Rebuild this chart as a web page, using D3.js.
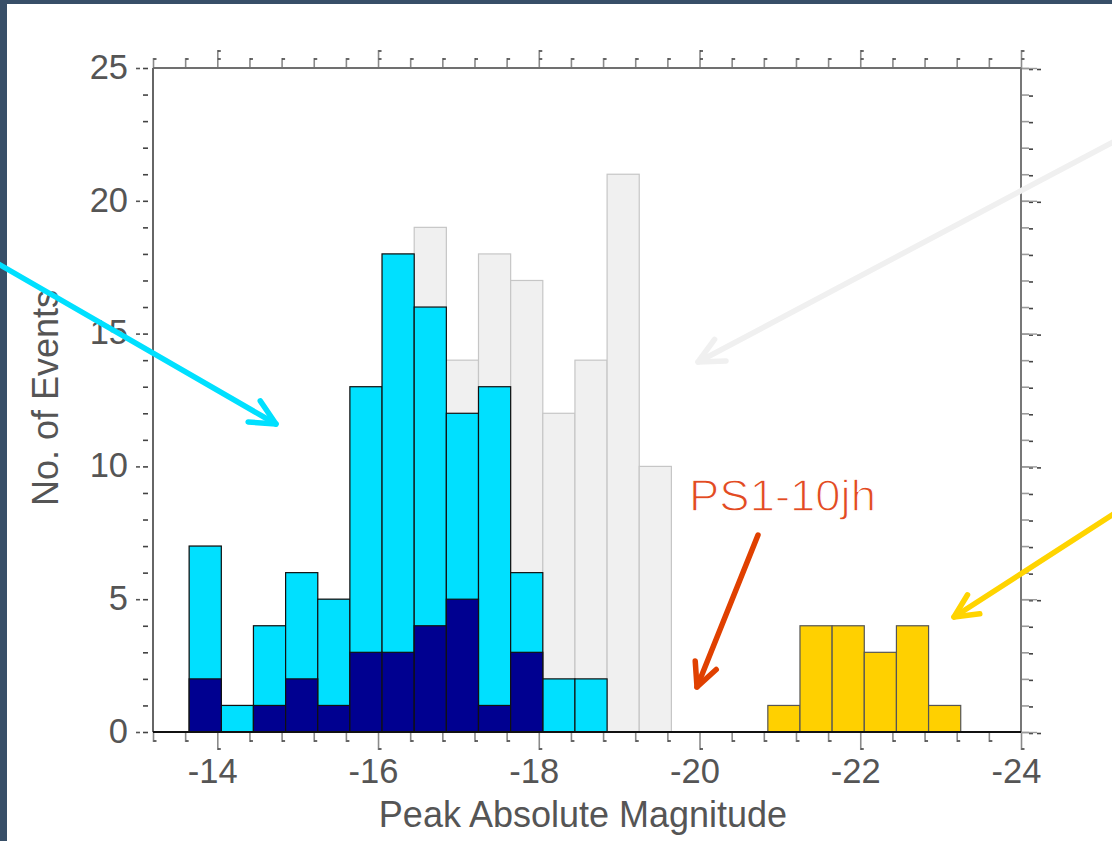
<!DOCTYPE html>
<html>
<head>
<meta charset="utf-8">
<script src="https://cdn.jsdelivr.net/npm/d3@7/dist/d3.min.js"></script>
<style>
  html, body { margin: 0; padding: 0; background: #fff; }
  svg { display: block; }
  text { font-family: "Liberation Sans", "Helvetica Neue", Arial, sans-serif; }
</style>
</head>
<body>
<svg id="chart" width="1112" height="841"></svg>
<script>
// Histogram of peak absolute magnitudes, 0.4 mag bins
const binStart = -13.65;   // left edge of first bin
const binWidth = 0.4;
// all events (light grey)
const allCounts    = [7, 1, 4, 6, 5, 13, 18, 19, 14, 18, 17, 12, 14, 21, 10];
// faint subset (cyan)
const faintCounts  = [7, 1, 4, 6, 5, 13, 18, 16, 12, 13, 6, 2, 2];
// sub-subset (navy)
const innerCounts  = [2, 0, 1, 2, 1, 3, 3, 4, 5, 1, 3, 0, 0];
// superluminous group (yellow), starting at bin 18
const brightStartBin = 18;
const brightCounts = [1, 4, 4, 3, 4, 1];

const xTicks = [-14, -16, -18, -20, -22, -24];
const yTicks = [0, 5, 10, 15, 20, 25];
const xLabel = "Peak Absolute Magnitude";
const yLabel = "No. of Events";
const note = "PS1-10jh";

const svg = d3.select("#chart");
const W = 1112, H = 841;
const pLeft = 153, pRight = 1021, pTop = 68, pBottom = 732;
const tickFont = 34.5, titleFont = 36;

const x = d3.scaleLinear().domain([-13.2, -24]).range([pLeft, pRight]);
const y = d3.scaleLinear().domain([0, 25]).range([pBottom, pTop]);

// frame of the slide
svg.append("rect").attr("width", W).attr("height", H).attr("fill", "#fff");
svg.append("rect").attr("x", 0).attr("y", 0).attr("width", W).attr("height", 4).attr("fill", "#384f68");
svg.append("rect").attr("x", 0).attr("y", 0).attr("width", 7).attr("height", H).attr("fill", "#384f68");

const bins = (counts, offset) => counts.map((c, i) => {
  const lo = binStart - binWidth * (i + offset);
  return { x0: lo, x1: lo - binWidth, v: c };
});

function drawBars(data, fill, stroke, sw) {
  svg.append("g").selectAll("rect").data(data.filter(d => d.v > 0)).join("rect")
    .attr("x", d => x(d.x0))
    .attr("width", d => x(d.x1) - x(d.x0))
    .attr("y", d => y(d.v))
    .attr("height", d => y(0) - y(d.v))
    .attr("fill", fill)
    .attr("stroke", stroke)
    .attr("stroke-width", sw);
}

drawBars(bins(allCounts, 0), "#f0f0f0", "#c6c6c6", 1.2);
drawBars(bins(faintCounts, 0), "#00e0ff", "#111", 1.2);
drawBars(bins(innerCounts, 0), "#000090", "#111", 1.2);
drawBars(bins(brightCounts, brightStartBin), "#ffd000", "#555", 1.2);

// axes
const minorX = d3.range(-13.2, -24.01, -0.4).map(v => +v.toFixed(1));
const minorY = d3.range(0, 26, 1);
const isMajorX = v => Math.abs(v / 2 - Math.round(v / 2)) < 1e-6;
const isMajorY = v => v % 5 === 0;

const ax = svg.append("g").attr("class", "axes");

// bottom axis: downward ticks with small flags
const gB = ax.append("g").attr("transform", `translate(0,${pBottom})`)
  .call(d3.axisBottom(x).tickValues(minorX).tickSizeInner(0).tickSizeOuter(0).tickFormat(""));
gB.select(".domain").remove();
gB.selectAll(".tick").each(function(d) {
  const g = d3.select(this), L = isMajorX(d) ? 18 : 10;
  g.append("line").attr("y1", 0).attr("y2", L).attr("stroke", "#8a8a8a").attr("stroke-width", 1.6);
  g.append("line").attr("x1", 0).attr("x2", 3).attr("y1", L - 1).attr("y2", L - 1).attr("stroke", "#444").attr("stroke-width", 1.6);
});
const gBL = ax.append("g").attr("transform", `translate(0,${pBottom})`)
  .call(d3.axisBottom(x).tickValues(xTicks).tickSize(0).tickPadding(27).tickFormat(d => "-" + Math.abs(d)));
gBL.select(".domain").remove();
gBL.selectAll("text").attr("font-size", tickFont).attr("fill", "#555").attr("dx", -5);

// top axis: upward ticks with flags
const gT = ax.append("g").attr("transform", `translate(0,${pTop})`)
  .call(d3.axisTop(x).tickValues(minorX).tickSize(0).tickFormat(""));
gT.select(".domain").remove();
gT.selectAll(".tick").each(function(d) {
  const g = d3.select(this), L = isMajorX(d) ? 18 : 10;
  g.append("line").attr("y1", 0).attr("y2", -L).attr("stroke", "#8a8a8a").attr("stroke-width", 1.6);
  g.append("line").attr("x1", 0).attr("x2", 3).attr("y1", -L + 1).attr("y2", -L + 1).attr("stroke", "#444").attr("stroke-width", 1.6);
  if (isMajorX(d)) g.append("line").attr("x1", 0).attr("x2", 3).attr("y1", -9).attr("y2", -9).attr("stroke", "#444").attr("stroke-width", 1.6);
});

// left axis
const gL = ax.append("g").attr("transform", `translate(${pLeft},0)`)
  .call(d3.axisLeft(y).tickValues(minorY).tickSize(0).tickFormat(""));
gL.select(".domain").remove();
gL.selectAll(".tick").each(function(d) {
  const g = d3.select(this);
  g.append("line").attr("x1", -10).attr("x2", -5).attr("stroke", "#444").attr("stroke-width", 1.6);
  if (isMajorY(d)) g.append("line").attr("x1", -17).attr("x2", -13).attr("stroke", "#555").attr("stroke-width", 1.6);
});
const gLL = ax.append("g").attr("transform", `translate(${pLeft},0)`)
  .call(d3.axisLeft(y).tickValues(yTicks).tickSize(0).tickPadding(25));
gLL.select(".domain").remove();
gLL.selectAll("text").attr("font-size", tickFont).attr("fill", "#555").attr("dy", "0.3em");

// right axis
const gR = ax.append("g").attr("transform", `translate(${pRight},0)`)
  .call(d3.axisRight(y).tickValues(minorY).tickSize(0).tickFormat(""));
gR.select(".domain").remove();
gR.selectAll(".tick").each(function(d) {
  const g = d3.select(this);
  g.append("line").attr("x1", 0).attr("x2", 8).attr("stroke", "#9a9a9a").attr("stroke-width", 1.6);
  g.append("line").attr("x1", 8).attr("x2", 12).attr("y1", 1).attr("y2", 1).attr("stroke", "#444").attr("stroke-width", 1.6);
  if (isMajorY(d)) {
    g.append("line").attr("x1", 0).attr("x2", 16).attr("stroke", "#9a9a9a").attr("stroke-width", 1.4);
    g.append("line").attr("x1", 16).attr("x2", 20).attr("y1", 1).attr("y2", 1).attr("stroke", "#444").attr("stroke-width", 1.6);
  }
});

// plot frame
ax.append("line").attr("x1", pLeft).attr("x2", pRight).attr("y1", pTop).attr("y2", pTop).attr("stroke", "#707070").attr("stroke-width", 2);
ax.append("line").attr("x1", pLeft).attr("x2", pLeft).attr("y1", pTop).attr("y2", pBottom).attr("stroke", "#666").attr("stroke-width", 2);
ax.append("line").attr("x1", pRight).attr("x2", pRight).attr("y1", pTop).attr("y2", pBottom).attr("stroke", "#777").attr("stroke-width", 2);
ax.append("line").attr("x1", pLeft).attr("x2", pRight).attr("y1", pBottom).attr("y2", pBottom).attr("stroke", "#111").attr("stroke-width", 2.2);

// axis titles
svg.append("text").attr("x", 583).attr("y", 827).attr("text-anchor", "middle")
  .attr("font-size", titleFont).attr("fill", "#555").text(xLabel);
svg.append("text").attr("transform", "translate(58,398) rotate(-90)").attr("text-anchor", "middle")
  .attr("font-size", titleFont).attr("fill", "#555").text(yLabel);

// annotation arrows
function arrow(x1, y1, x2, y2, color, w, head) {
  const ang = Math.atan2(y2 - y1, x2 - x1);
  const g = svg.append("g").attr("stroke", color).attr("stroke-width", w)
    .attr("stroke-linecap", "round").attr("stroke-linejoin", "round").attr("fill", "none");
  g.append("line").attr("x1", x1).attr("y1", y1).attr("x2", x2).attr("y2", y2);
  const a1 = ang + Math.PI - 0.45, a2 = ang + Math.PI + 0.45;
  g.append("path").attr("d",
    `M${x2 + head * Math.cos(a1)},${y2 + head * Math.sin(a1)} L${x2},${y2} L${x2 + head * Math.cos(a2)},${y2 + head * Math.sin(a2)}`);
}
arrow(-5, 262, 276, 424, "#00e0ff", 5.5, 28);
arrow(1115, 141, 698, 362, "#f0f0f0", 5.5, 28);
arrow(758, 535, 697, 687, "#e04000", 5.5, 26);
arrow(1115, 513, 954, 617, "#ffd400", 5.5, 26);

// light-weight label: a thin white stroke over the fill slims the glyphs
svg.append("text").attr("x", 689).attr("y", 511).attr("font-size", 45)
  .attr("textLength", 187).attr("lengthAdjust", "spacingAndGlyphs")
  .attr("fill", "#e24a22").attr("stroke", "#fff").attr("stroke-width", 1.3)
  .text(note);
</script>
</body>
</html>
